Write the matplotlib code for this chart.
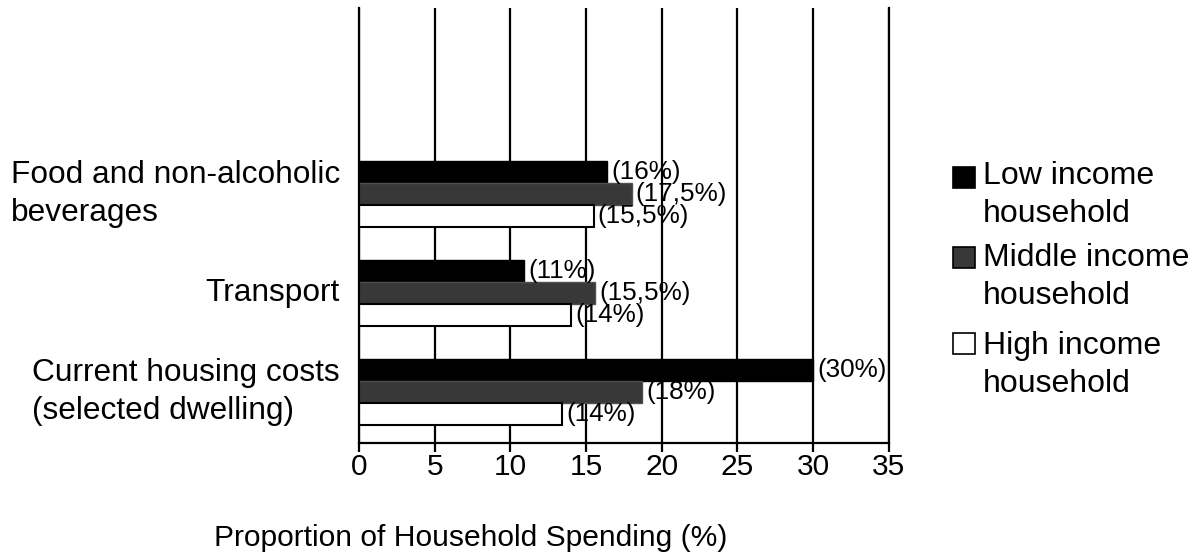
import numpy as np
import matplotlib
matplotlib.use('Agg')
import matplotlib.pyplot as plt
from matplotlib.patches import Rectangle

plt.rcParams['font.family'] = ['Liberation Sans', 'DejaVu Sans']

categories = ['Current housing costs\n(selected dwelling)', 'Transport',
              'Food and non-alcoholic\nbeverages']
low = [30, 10.9, 16.4]
middle = [18.7, 15.6, 18.0]
high = [13.4, 14.0, 15.5]
low_labels = ['(30%)', '(11%)', '(16%)']
middle_labels = ['(18%)', '(15,5%)', '(17,5%)']
high_labels = ['(14%)', '(14%)', '(15,5%)']
series_names = ['Low income\nhousehold', 'Middle income\nhousehold', 'High income\nhousehold']
xticks = [0, 5, 10, 15, 20, 25, 30, 35]

fig = plt.figure(figsize=(11.92, 5.52), dpi=100)
ax = fig.add_axes([0.3012, 0.1975, 0.4445, 0.788])

y = np.arange(len(categories))
h = 0.225
b1 = ax.barh(y + h, low, height=h, color='black', edgecolor='black', linewidth=1)
b2 = ax.barh(y, middle, height=h, color='#383838', edgecolor='#505050', linewidth=1)
b3 = ax.barh(y - h, high, height=h, color='white', edgecolor='black', linewidth=1.5)

for bars, labs in [(b1, low_labels), (b2, middle_labels), (b3, high_labels)]:
    for bar, lab in zip(bars, labs):
        ax.annotate(lab, (bar.get_width(), bar.get_y() + bar.get_height() / 2),
                    xytext=(3, 0), textcoords='offset points', va='center',
                    ha='left', fontsize=18.8)

ax.set_xlim(0, 35)
ax.set_ylim(-0.515, 3.879)
ax.set_xticks(xticks)
ax.set_xticklabels([str(t) for t in xticks], fontsize=21.5)
ax.tick_params(axis='x', length=6.5, width=1.6, pad=1)

# category names as text so multi-line ones stay centred on their group
ax.set_yticks(y)
ax.set_yticklabels([])
ax.tick_params(axis='y', length=0)
for yy, cat in zip(y, categories):
    ax.text(-0.036, yy, cat, transform=ax.get_yaxis_transform(), ha='right',
            va='center', multialignment='left', fontsize=22.8, linespacing=1.35)

ax.grid(axis='x', color='black', linewidth=1.6)
ax.set_axisbelow(True)
ax.spines['top'].set_visible(False)
for s in ['left', 'right', 'bottom']:
    ax.spines[s].set_linewidth(1.6)

ax.set_xlabel('Proportion of Household Spending (%)', fontsize=21.6)
ax.xaxis.set_label_coords(0.21, -0.186)

# legend drawn by hand
leg_colors = ['black', '#383838', 'white']
box_y = [0.678, 0.5335, 0.377]
text_y = [0.708, 0.5595, 0.4006]
for name, c, by, ty in zip(series_names, leg_colors, box_y, text_y):
    fig.patches.append(Rectangle((0.7995, by - 0.019), 0.0182, 0.038,
                                 transform=fig.transFigure, facecolor=c,
                                 edgecolor='black', linewidth=1.2))
    fig.text(0.8245, ty, name, fontsize=23, va='top', ha='left',
             linespacing=1.35)

fig.savefig('out.png', dpi=100)
